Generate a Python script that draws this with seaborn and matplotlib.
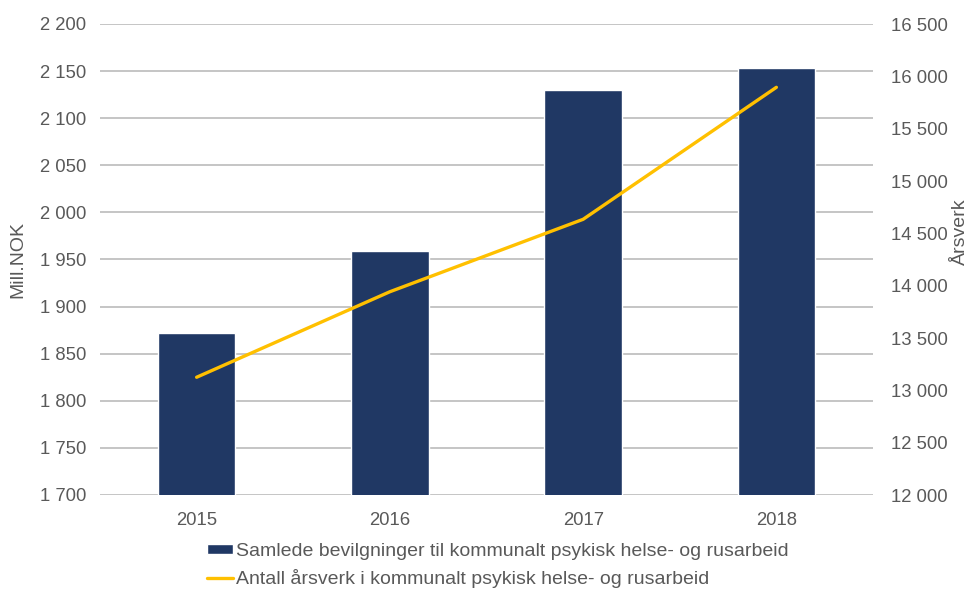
import numpy as np
import pandas as pd
import matplotlib
matplotlib.use("Agg")
import matplotlib.pyplot as plt
from matplotlib.ticker import FuncFormatter, MultipleLocator
import seaborn as sns

# Data
years = ["2015", "2016", "2017", "2018"]
bevilgninger = [1872, 1959, 2130, 2153]       # Mill. NOK
arsverk = [13125, 13942, 14634, 15895]         # Årsverk

bar_label = "Samlede bevilgninger til kommunalt psykisk helse- og rusarbeid"
line_label = "Antall årsverk i kommunalt psykisk helse- og rusarbeid"

sns.set_theme(style="white")
plt.rcParams["font.family"] = ["Liberation Sans", "DejaVu Sans"]

text_color = "#595959"
bar_color = "#203864"
line_color = "#FFC000"
grid_color = "#C0C0C0"

df = pd.DataFrame({"year": years, "bev": bevilgninger, "arsverk": arsverk})

fig = plt.figure(figsize=(9.72, 5.90), dpi=100)
ax = fig.add_axes([100 / 972, 1 - 495 / 590, 773 / 972, 471 / 590])

sns.barplot(data=df, x="year", y="bev", color=bar_color, width=0.4,
            saturation=1, ax=ax, label=bar_label, zorder=2)
ax.set_ylim(1700, 2200)
ax.set_xlim(-0.5, 3.5)
ax.yaxis.set_major_locator(MultipleLocator(50))
ax.yaxis.set_major_formatter(FuncFormatter(lambda v, p: f"{v:,.0f}".replace(",", " ")))
ax.grid(axis="y", color=grid_color, linewidth=1.3, zorder=0)
ax.set_axisbelow(True)

ax2 = ax.twinx()
sns.lineplot(x=np.arange(len(years)), y=df["arsverk"], color=line_color,
             linewidth=2.4, ax=ax2, label=line_label)
ax2.set_ylim(12000, 16500)
ax2.yaxis.set_major_locator(MultipleLocator(500))
ax2.yaxis.set_major_formatter(FuncFormatter(lambda v, p: f"{v:,.0f}".replace(",", " ")))

for a in (ax, ax2):
    for s in a.spines.values():
        s.set_visible(False)
    a.tick_params(axis="both", length=0, labelsize=13.3, colors=text_color)

ax.tick_params(axis="y", pad=10)
ax2.tick_params(axis="y", pad=13)
ax.tick_params(axis="x", pad=12)

ax.set_xlabel("")
ax.set_ylabel("Mill.NOK", fontsize=14, color=text_color)
ax.yaxis.set_label_coords(-0.095, 0.5)
ax2.set_ylabel("Årsverk", fontsize=14, color=text_color, rotation=90)
ax2.yaxis.set_label_coords(1.1025, 0.56)

# Legend below the plot, bar entry first
h1, l1 = ax.get_legend_handles_labels()
h2, l2 = ax2.get_legend_handles_labels()
if ax.get_legend():
    ax.get_legend().remove()
if ax2.get_legend():
    ax2.get_legend().remove()
fig.legend(h1 + h2, l1 + l2, loc="upper left",
           bbox_to_anchor=(207 / 972, 1 - 543 / 590),
           frameon=False, fontsize=14, labelcolor=text_color,
           borderpad=0, borderaxespad=0, handlelength=1.35,
           handleheight=0.45, handletextpad=0.15, labelspacing=0.48)

fig.savefig("out.png", dpi=100, facecolor="white")
